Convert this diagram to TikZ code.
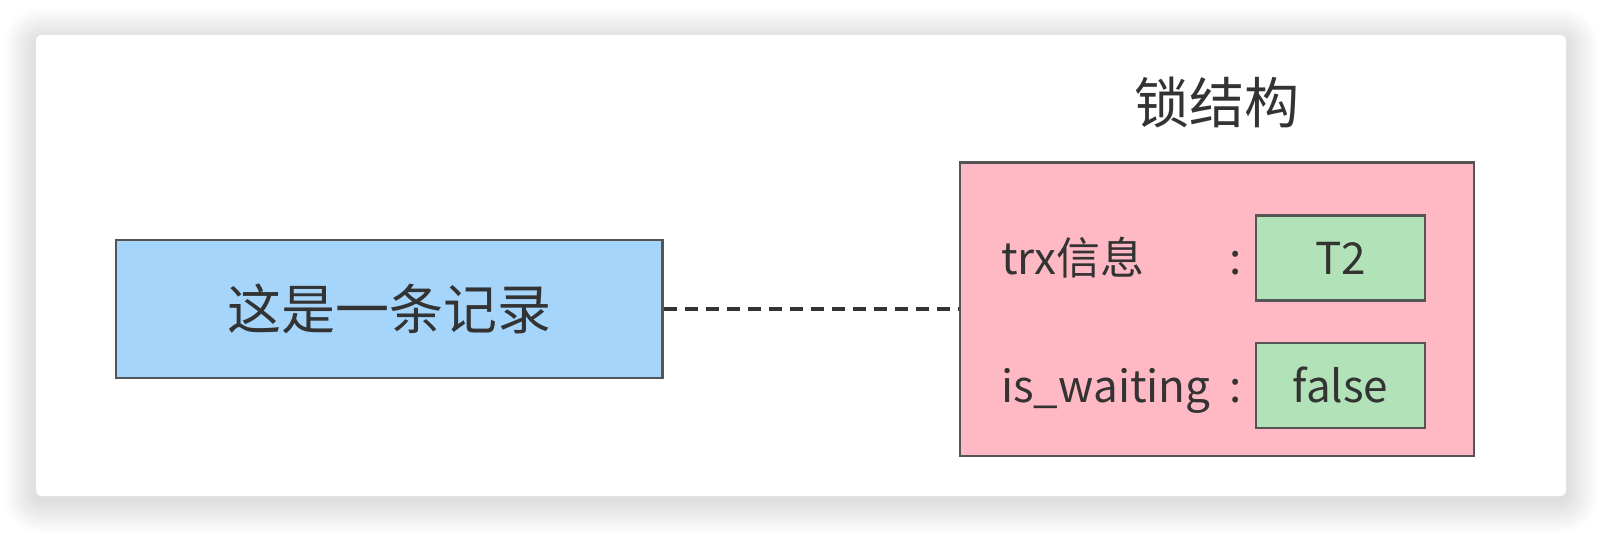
\documentclass[tikz,border=0pt]{standalone}
\usepackage{fontspec}
\setmainfont{Noto Sans CJK SC}
\usepackage{xcolor}
\usetikzlibrary{positioning}
\definecolor{recblue}{HTML}{A6D5FB}
\definecolor{lockpink}{HTML}{FFB9C5}
\definecolor{valgreen}{HTML}{B2E2B8}
\definecolor{edgegray}{HTML}{555555}
\definecolor{textgray}{HTML}{333333}
\tikzset{
    boxnode/.style = {draw=edgegray, rectangle, line width=1.2pt, inner sep=0pt, text=textgray},
    valuenode/.style = {boxnode, fill=valgreen, minimum width=84.5pt, minimum height=42.5pt,
      font=\fontsize{22}{26}\selectfont},
    textnode/.style = {draw=none, fill=none, rectangle, inner sep=0pt, text=textgray,
      font=\fontsize{22}{26}\selectfont},
    titlenode/.style = {textnode, font=\fontsize{27.5}{32}\selectfont},
    connect/.style = {textgray, line width=1.8pt, dash pattern=on 6.5pt off 4pt}
}

\begin{document}
\begin{tikzpicture}[x=0.5pt, y=-0.5pt]
    \useasboundingbox (0,0) rectangle (1602,532);
    % card with soft shadow
    \foreach \i in {1,...,16}
        \fill[black, opacity=0.009, rounded corners=3pt+\i*1pt] (36-2*\i,40-2*\i) rectangle (1566+2*\i,501+2*\i);
    \fill[white, rounded corners=3pt] (36,35) rectangle (1566,496);

    \node [name=lock, boxnode, fill=lockpink, minimum width=257pt, minimum height=146.75pt] at (1217,309.25) {};
    \node [name=rec, boxnode, fill=recblue, minimum width=273.25pt, minimum height=69pt,
        font=\fontsize{27}{32}\selectfont, left=147.5pt of lock] {这是一条记录};
    \node [name=title, titlenode] at (1217,102) {锁结构};

    \node [name=trxval, valuenode, below left=26.5pt and 24.5pt of lock.north east] {T2};
    \node [name=waitval, valuenode, below=20pt of trxval] {false};

    \node [name=trx, textnode, anchor=base west, xshift=21pt] at (lock.west |- trxval.base) {trx信息};
    \node [name=wait, textnode, anchor=base west, xshift=21pt] at (lock.west |- waitval.base) {is\_waiting};
    \node [name=trxcolon, textnode, anchor=base, xshift=-9.5pt] at (trxval.west |- trxval.base) {:};
    \node [name=waitcolon, textnode, anchor=base, xshift=-9.5pt] at (waitval.west |- waitval.base) {:};

    \draw [connect] (rec) -- (lock);
\end{tikzpicture}
\end{document}
